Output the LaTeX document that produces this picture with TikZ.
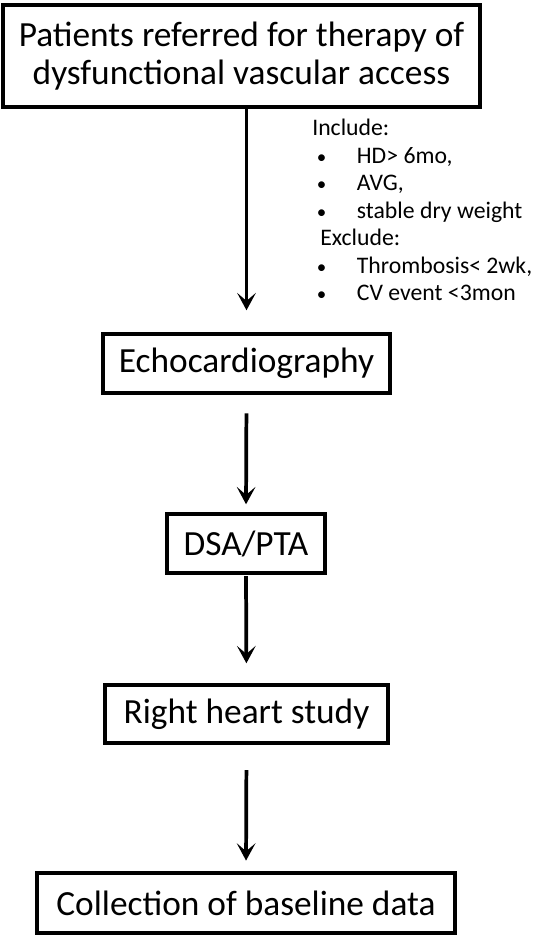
\documentclass[tikz,border=0pt]{standalone}
\usepackage{fontspec}
\setmainfont{Carlito}
\usepackage{tikz}
\usetikzlibrary{arrows.meta,positioning,calc}

\newcommand{\critem}[1]{\hspace*{3.5pt}\makebox[30pt][l]{\scalebox{0.8}{\textbullet}}#1}

\begin{document}
\begin{tikzpicture}[
    x=0.75pt, y=-0.75pt,
    stepbox/.style={
        draw,
        line width=2.6pt,
        inner sep=0pt,
        align=center,
        font=\fontsize{26.5}{28.5}\selectfont
    },
    flow/.style={
        draw,
        line width=2.8pt,
        -{Stealth[length=13pt,width=14pt,inset=6pt]}
    }
]
\useasboundingbox (0,0) rectangle (535,937);

% ---------------- Boxes ----------------
\node[stepbox, minimum width=357.75pt, minimum height=76.5pt] (patients) at (241.5,56)
    {Patients referred for therapy of\\dysfunctional vascular access};
\node[stepbox, minimum width=215.25pt, minimum height=44.25pt] (echo) at (246.5,363.5)
    {Echocardiography};
\node[stepbox, minimum width=118.5pt, minimum height=44.25pt] (dsa) at (246,543.5)
    {DSA/PTA};
\node[stepbox, minimum width=212.25pt, minimum height=43.5pt] (rhs) at (246.5,714)
    {Right heart study};
\node[stepbox, minimum width=313.5pt, minimum height=45pt] (baseline) at (246,903)
    {Collection of baseline data};

% ---------------- Criteria ----------------
\node[anchor=north west, inner sep=0pt, align=left,
      font=\fontsize{17.8}{20.6}\selectfont] (criteria) at (312,119)
    {Include:\\
     \critem{HD> 6mo,}\\
     \critem{AVG,}\\
     \critem{stable dry weight}\\
     \hspace*{6pt}Exclude:\\
     \critem{Thrombosis< 2wk,}\\
     \critem{CV event <3mon}};

% ---------------- Arrows ----------------
\draw[flow, shorten >=16.5pt] (echo.north |- patients.south) -- (echo.north);
\draw[flow, shorten <=14pt, shorten >=6pt] (echo.south) -- (dsa.north);
\draw[flow, shorten <=1pt, shorten >=15pt] (dsa.south) -- (rhs.north);
\draw[flow, shorten <=19pt, shorten >=8pt] (rhs.south) -- (baseline.north);

\end{tikzpicture}
\end{document}
